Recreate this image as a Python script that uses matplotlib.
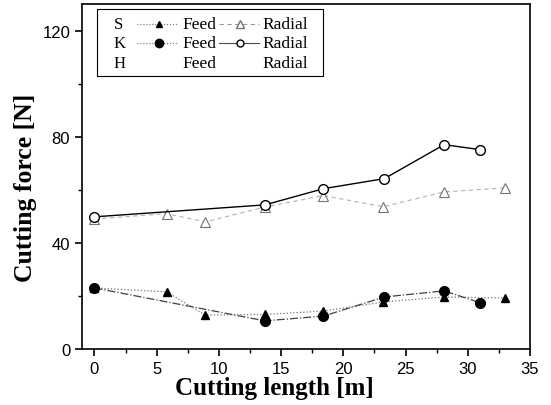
import matplotlib
matplotlib.use("Agg")
import matplotlib.pyplot as plt
from matplotlib.lines import Line2D
from matplotlib.patches import Rectangle
from matplotlib.ticker import MultipleLocator

# cutting length [m]
s_len = [0, 5.8, 8.9, 13.7, 18.4, 23.2, 28.1, 33.0]
s_feed = [23, 21.5, 12.8, 13.0, 14.3, 17.7, 19.6, 19.2]
s_radial = [49, 51, 47.9, 53.5, 57.8, 53.6, 59.2, 60.7]

k_len = [0, 13.7, 18.4, 23.3, 28.1, 31.0]
k_feed = [23, 10.6, 12.4, 19.6, 21.9, 17.4]
k_radial = [49.8, 54.3, 60.4, 64.2, 77.0, 75.1]

serif = ["Liberation Serif", "DejaVu Serif"]
sans = ["Liberation Sans", "DejaVu Sans"]

fig = plt.figure(figsize=(5.51, 4.06), dpi=100)
ax = fig.add_axes([0.1488, 0.138, 0.8132, 0.8497])

ax.plot(s_len, s_feed, ls=":", color="0.45", lw=0.9, marker="^", ms=6,
        mfc="black", mec="black")
ax.plot(s_len, s_radial, ls=(0, (4, 3)), color="0.7", lw=0.8, marker="^", ms=7,
        mfc="white", mec="0.45", mew=0.8)
ax.plot(k_len, k_feed, ls="-.", color="0.25", lw=0.9, marker="o", ms=7,
        mfc="black", mec="black")
ax.plot(k_len, k_radial, ls="-", color="black", lw=1.0, marker="o", ms=7,
        mfc="white", mec="black", mew=1.0)

ax.set_xlim(-1, 35)
ax.set_ylim(0, 130)
ax.xaxis.set_major_locator(MultipleLocator(5))
ax.xaxis.set_minor_locator(MultipleLocator(2.5))
ax.yaxis.set_major_locator(MultipleLocator(40))
ax.yaxis.set_minor_locator(MultipleLocator(20))
ax.tick_params(which="major", direction="out", length=5, width=1.2, labelsize=12)
ax.tick_params(which="minor", direction="out", length=3, width=1.0)
for lab in ax.get_xticklabels() + ax.get_yticklabels():
    lab.set_family(sans)
for sp in ax.spines.values():
    sp.set_linewidth(1.2)


# pixel -> axes fraction helpers (axes spans x 82..530, y 5..350 px)
def fx(px):
    return (px - 82) / (530 - 82)


def fy(py):
    return (350 - py) / (350 - 5)


ax.set_xlabel("Cutting length [m]", family=serif, fontweight="bold", fontsize=18)
ax.set_ylabel("Cutting force [N]", family=serif, fontweight="bold", fontsize=18.5)
ax.xaxis.set_label_coords(fx(274), fy(377))
ax.yaxis.set_label_coords(fx(37), fy(188))

# hand-built legend
ax.add_patch(Rectangle((fx(97), fy(77)), fx(323) - fx(97), fy(10) - fy(77),
                       transform=ax.transAxes, fill=False, lw=0.8, ec="black"))
rows = [("S", 25), ("K", 44), ("H", 64)]
styles = [
    (dict(ls=":", color="0.45", marker="^", mfc="black", mec="black", ms=5),
     dict(ls=(0, (4, 3)), color="0.6", marker="^", mfc="white", mec="0.45", ms=6)),
    (dict(ls=":", color="0.45", marker="o", mfc="black", mec="black", ms=6),
     dict(ls="-", color="0.3", marker="o", mfc="white", mec="black", ms=5)),
    None,
]
for (name, py), st in zip(rows, styles):
    ax.text(fx(114), fy(py), name, transform=ax.transAxes, family=serif,
            fontsize=12, va="center", ha="left")
    ax.text(fx(182), fy(py), "Feed", transform=ax.transAxes, family=serif,
            fontsize=12.5, va="center", ha="left")
    ax.text(fx(262), fy(py), "Radial", transform=ax.transAxes, family=serif,
            fontsize=12.5, va="center", ha="left")
    if st is None:
        continue
    feed_st, rad_st = st
    ax.add_line(Line2D([fx(137), fx(178)], [fy(py), fy(py)], transform=ax.transAxes,
                       lw=0.8, markevery=[], **feed_st))
    ax.add_line(Line2D([fx(159)], [fy(py)], transform=ax.transAxes, ls="none",
                       **{k: v for k, v in feed_st.items() if k not in ("ls", "color")}))
    ax.add_line(Line2D([fx(219), fx(259)], [fy(py), fy(py)], transform=ax.transAxes,
                       lw=0.8, markevery=[], **rad_st))
    ax.add_line(Line2D([fx(240)], [fy(py)], transform=ax.transAxes, ls="none",
                       **{k: v for k, v in rad_st.items() if k not in ("ls", "color")}))

fig.savefig("out.png", dpi=100)
